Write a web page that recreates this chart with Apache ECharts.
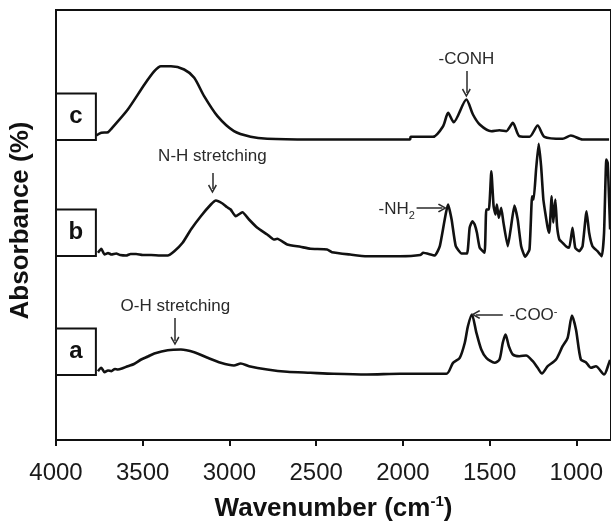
<!DOCTYPE html>
<html>
<head>
<meta charset="utf-8">
<script src="https://cdn.jsdelivr.net/npm/echarts@6/dist/echarts.min.js"></script>
<style>
  html, body { margin: 0; padding: 0; background: #fff; overflow: hidden; }
  #main { width: 611px; height: 529px; }
</style>
</head>
<body>
<div id="main"></div>
<script>
// x ticks
var xTicks = [4000, 3500, 3000, 2500, 2000, 1500, 1000];

// spectrum a (offset below)
var wnA = [3758, 3739, 3720, 3700, 3681, 3660, 3643, 3620, 3586, 3550, 3509, 3470, 3433, 3356, 3280, 3203, 3126, 3050, 2974, 2935,
  2887, 2782, 2667, 2533, 2400, 2208, 2017, 1749, 1711, 1672, 1643, 1625, 1602, 1576, 1548, 1519, 1471, 1443, 1424, 1408,
  1389, 1366, 1328, 1290, 1251, 1223, 1198, 1165, 1117, 1079, 1050, 1025, 1002, 974, 945, 916, 887, 840, 811, 805];
var absA = [3.8, 7.2, 2.8, 4.5, 3.8, 6, 5.5, 6.5, 8.8, 11, 15.5, 18.5, 21.5, 24.8, 25.5, 22.8, 17.2, 12.2, 9.5, 11.5,
  8.8, 5.5, 3.2, 2.2, 1.2, 0.5, 1.2, 1.2, 12.2, 17.2, 32.2, 48.8, 60.5, 42.2, 25.5, 17.2, 12.2, 15.5, 32.2, 40.5,
  28.8, 20.5, 18.8, 19.5, 13.8, 7.2, 1.5, 8.8, 15.5, 28.8, 37.2, 59.5, 45.5, 15.5, 12.8, 7.2, 8.8, 0.5, 12.2, 15];

// spectrum b
var wnB = [3758, 3739, 3720, 3700, 3680, 3653, 3630, 3595, 3570, 3538, 3500, 3452, 3400, 3356, 3318, 3270, 3222, 3165, 3107, 3078,
  3040, 3015, 2993, 2964, 2925, 2887, 2839, 2782, 2744, 2724, 2667, 2591, 2533, 2437, 2409, 2304, 2208, 2017, 1900, 1883,
  1816, 1787, 1739, 1719, 1695, 1662, 1630, 1615, 1599, 1586, 1573, 1557, 1529, 1519, 1504, 1490, 1477, 1466, 1458, 1447,
  1433, 1420, 1395, 1376, 1357, 1338, 1318, 1295, 1270, 1255, 1246, 1232, 1217, 1203, 1190, 1179, 1165, 1156, 1142, 1133,
  1121, 1111, 1098, 1079, 1060, 1041, 1022, 1006, 983, 964, 941, 926, 907, 878, 853, 840, 827, 819, 811, 805];
var absB = [3.2, 7.2, 1.5, 3, 1.5, 2.5, 1, 0.5, 2, 2, 1, 1, 0.5, 0.5, 4.8, 13.2, 26.5, 39.8, 51.5, 55.5,
  52.5, 49, 46.5, 39.8, 43.8, 36.5, 28.2, 21.5, 16.5, 17.2, 11.5, 9.2, 7.2, 6.5, 3.8, 1.5, -0.2, -0.2, 1, 3.2,
  0.5, 9.8, 51.5, 36.5, 9.8, 2.5, 2.5, 28.2, 34.8, 31.5, 23.2, 8.2, 3.2, 46.5, 46.5, 84.8, 49.8, 41.5, 51.5, 38.2,
  48.2, 33.2, 9.8, 29.8, 50.5, 36.5, 9.8, -0.8, 6.5, 59.8, 56.5, 86.5, 112.2, 89.8, 56.5, 43.2, 28.2, 23.2, 59.8, 33.2,
  56.5, 29.8, 16.5, 13.2, 9.8, 8.2, 28.2, 8.2, 4.8, 9.8, 44.8, 23.2, 9.8, 4.8, -0.2, 23.2, 96.5, 93.2, 56.5, 26.5];

// spectrum c
var wnC = [3768, 3739, 3700, 3681, 3586, 3490, 3433, 3395, 3337, 3261, 3203, 3146, 3069, 2974, 2878, 2782, 2533, 1959, 1955, 1827,
  1768, 1739, 1707, 1634, 1596, 1557, 1490, 1443, 1404, 1366, 1328, 1270, 1223, 1184, 1079, 1031, 964, 811];
var absC = [4.5, 7.2, 7.8, 11.2, 30.5, 55.5, 68.8, 73.8, 73.8, 70.5, 62.2, 43.8, 23.8, 8.8, 3.2, 1.2, 0.5, 0.5, 3.2, 3.2,
  13.8, 27.2, 17.8, 40.5, 25.5, 15.5, 8.8, 9.8, 8.8, 17.2, 3.8, 3.2, 14.5, 3.2, 1.2, 4.5, 0.5, 0.5];

// vertical offsets for stacking
var offsetA = 65, offsetB = 184, offsetC = 300;
var boxHeight = 46.5;
var boxEdge = 3770;

function pairs(wn, ab, off) {
  return wn.map(function (w, i) { return [w, ab[i] + off]; });
}

var arrowHead = 'path://M5,0 L10,8 L8.6,9 L5,3 L1.4,9 L0,8 Z';
var noteColor = '#2a2a2a';
var noteFont = 'Liberation Sans, Arial, sans-serif';

function box(name, off) {
  return {
    silent: true,
    itemStyle: { color: '#fff', borderColor: '#111', borderWidth: 2 },
    label: { show: true, position: 'inside', formatter: name, color: '#111', fontSize: 24, fontWeight: 'bold', fontFamily: noteFont },
    data: [[{ coord: [4000, off + boxHeight] }, { coord: [boxEdge, off] }]]
  };
}

function note(text, x, y) {
  return {
    coord: [x, y], symbol: 'circle', symbolSize: 1, itemStyle: { color: 'rgba(0,0,0,0)' },
    label: {
      show: true, position: 'inside', formatter: text, color: noteColor, fontSize: 17, fontFamily: noteFont,
      rich: {
        n: { fontSize: 17, color: noteColor, fontFamily: noteFont, lineHeight: 24 },
        sub: { fontSize: 11, color: noteColor, fontFamily: noteFont, verticalAlign: 'bottom' },
        sup: { fontSize: 11, color: noteColor, fontFamily: noteFont, verticalAlign: 'top' }
      }
    }
  };
}

function arrows(list) {
  return {
    silent: true, animation: false,
    symbol: ['none', arrowHead], symbolSize: [9, 9],
    label: { show: false },
    lineStyle: { color: noteColor, width: 1.5, type: 'solid' },
    data: list.map(function (a) { return [{ coord: [a[0], a[1]] }, { coord: [a[2], a[3]] }]; })
  };
}

var lineStyle = { color: '#111', width: 2.6, join: 'round' };

var option = {
  animation: false,
  grid: { left: 54, top: 10, width: 558, height: 430, show: true, borderColor: '#111', borderWidth: 2 },
  xAxis: {
    type: 'value', inverse: true, min: 800, max: 4000,
    name: 'Wavenumber (cm{sup|-1})', nameLocation: 'middle', nameGap: 54,
    nameTextStyle: {
      fontSize: 26, fontWeight: 'bold', color: '#111', fontFamily: noteFont, lineHeight: 30,
      rich: { sup: { fontSize: 15, fontWeight: 'bold', color: '#111', fontFamily: noteFont, verticalAlign: 'top' } }
    },
    axisLine: { show: true, lineStyle: { color: '#111', width: 2 } },
    axisTick: { show: true, length: 6, inside: false, customValues: xTicks, lineStyle: { color: '#111', width: 2 } },
    axisLabel: {
      customValues: xTicks, fontSize: 24, color: '#1a1a1a', margin: 21, fontFamily: noteFont,
      formatter: function (v) { return String(v); }
    },
    splitLine: { show: false }
  },
  yAxis: {
    type: 'value', min: 0, max: 430,
    name: 'Absorbance (%)', nameLocation: 'middle', nameGap: 22,
    nameTextStyle: { fontSize: 26, fontWeight: 'bold', color: '#111', fontFamily: noteFont, padding: [0, 0, 0, 9] },
    axisLine: { show: true, lineStyle: { color: '#111', width: 2 } },
    axisTick: { show: false },
    axisLabel: { show: false },
    splitLine: { show: false }
  },
  series: [
    {
      name: 'a', type: 'line', showSymbol: false, smooth: 0.25, data: pairs(wnA, absA, offsetA), lineStyle: lineStyle,
      markArea: box('a', offsetA),
      markPoint: { silent: true, data: [note('O-H stretching', 3312, 134), note('-COO{sup|-}', 1247, 125)] },
      markLine: arrows([[3314, 122, 3314, 99], [1424, 125.5, 1580, 125.5]])
    },
    {
      name: 'b', type: 'line', showSymbol: false, smooth: 0.15, data: pairs(wnB, absB, offsetB), lineStyle: lineStyle,
      markArea: box('b', offsetB),
      markPoint: { silent: true, data: [note('N-H stretching', 3098, 283.5), note('{n|-NH}{sub|2}', 2036, 231)] },
      markLine: arrows([[3098, 267, 3098, 251], [1921, 232, 1772, 232]])
    },
    {
      name: 'c', type: 'line', showSymbol: false, smooth: 0.25, data: pairs(wnC, absC, offsetC), lineStyle: lineStyle,
      markArea: box('c', offsetC),
      markPoint: { silent: true, data: [note('-CONH', 1634, 380.5)] },
      markLine: arrows([[1634, 369, 1634, 347]])
    }
  ]
};

var myChart = echarts.init(document.getElementById('main'));
myChart.setOption(option);
</script>
</body>
</html>
